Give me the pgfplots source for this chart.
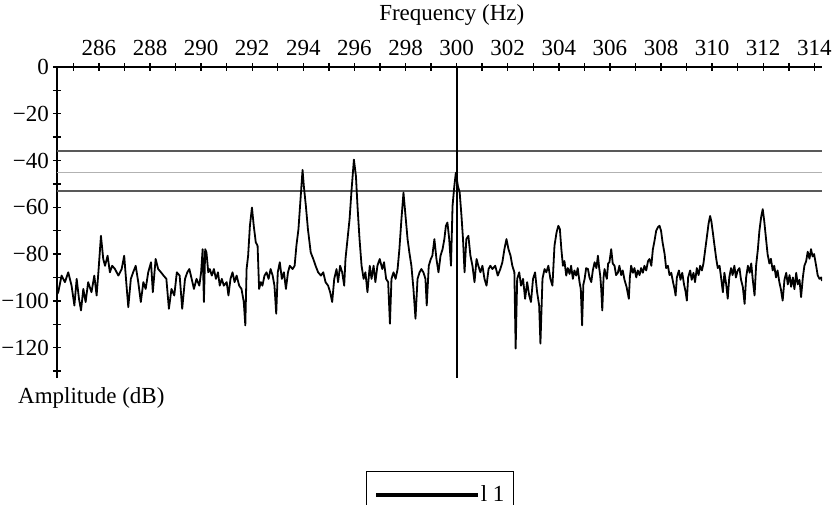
\documentclass[border=0pt]{standalone}
\usepackage{pgfplots}
\pgfplotsset{compat=1.18}
\usepackage{pgfplotstable}
\usepackage{fontspec}
\setmainfont{Liberation Serif}
\pgfplotstableread{
f db
284.37 -97.0
284.41 -96.3
284.54 -89.2
284.67 -92.0
284.80 -87.8
284.93 -93.5
285.04 -102.0
285.13 -90.6
285.22 -99.1
285.30 -104.1
285.39 -94.9
285.48 -100.5
285.58 -92.0
285.71 -96.3
285.82 -89.2
285.91 -97.7
285.98 -87.8
286.08 -72.2
286.17 -82.1
286.24 -85.0
286.34 -80.7
286.43 -87.8
286.52 -85.0
286.63 -86.4
286.76 -89.2
286.89 -86.4
286.99 -80.7
287.07 -92.0
287.15 -102.7
287.25 -90.6
287.34 -87.8
287.44 -85.0
287.54 -92.0
287.64 -100.5
287.74 -92.0
287.83 -94.9
287.93 -87.8
288.04 -83.5
288.11 -96.3
288.22 -82.1
288.32 -86.4
288.43 -87.8
288.53 -89.2
288.64 -90.6
288.74 -103.4
288.84 -94.9
288.95 -97.7
289.05 -87.8
289.16 -89.2
289.26 -103.4
289.37 -90.6
289.46 -87.8
289.54 -86.4
289.63 -90.6
289.72 -94.9
289.82 -90.6
289.93 -93.5
290.00 -87.8
290.06 -77.9
290.11 -100.5
290.16 -77.9
290.21 -79.3
290.28 -87.8
290.34 -86.4
290.42 -89.2
290.50 -86.4
290.58 -90.6
290.66 -87.8
290.73 -93.5
290.81 -90.6
290.89 -93.5
291.00 -92.0
291.07 -97.7
291.15 -90.6
291.23 -87.8
291.31 -92.0
291.39 -89.2
291.49 -93.5
291.58 -94.9
291.67 -100.5
291.73 -110.5
291.78 -86.4
291.84 -80.7
291.91 -67.9
291.99 -60.1
292.06 -67.9
292.14 -75.0
292.21 -76.4
292.27 -94.9
292.34 -92.0
292.40 -93.5
292.48 -89.2
292.56 -87.8
292.64 -90.6
292.72 -86.4
292.80 -89.2
292.87 -93.5
292.94 -105.5
293.00 -87.8
293.08 -83.5
293.16 -90.6
293.24 -87.8
293.32 -94.9
293.40 -87.8
293.47 -85.0
293.58 -86.4
293.66 -85.0
293.73 -76.4
293.81 -69.3
293.89 -56.6
293.97 -44.0
294.02 -50.9
294.10 -59.4
294.18 -69.3
294.29 -79.3
294.39 -82.1
294.48 -85.0
294.58 -87.8
294.69 -89.2
294.78 -87.8
294.87 -92.0
294.97 -93.5
295.05 -96.3
295.13 -100.5
295.21 -90.6
295.30 -86.4
295.36 -92.0
295.44 -85.0
295.52 -87.8
295.60 -93.5
295.65 -82.1
295.73 -73.6
295.81 -65.1
295.89 -52.3
295.98 -39.6
296.06 -46.7
296.12 -59.4
296.20 -73.6
296.28 -85.0
296.36 -90.6
296.43 -87.8
296.51 -96.3
296.60 -85.0
296.67 -90.6
296.75 -85.0
296.82 -92.0
296.90 -85.0
296.99 -82.1
297.09 -86.4
297.16 -83.5
297.24 -90.6
297.32 -92.0
297.39 -109.8
297.45 -90.6
297.53 -87.8
297.61 -90.6
297.69 -86.4
297.76 -77.9
297.84 -65.1
297.92 -53.7
298.00 -63.7
298.08 -73.6
298.15 -79.3
298.23 -85.0
298.31 -94.9
298.39 -107.6
298.47 -90.6
298.55 -87.8
298.62 -86.4
298.70 -87.8
298.78 -90.6
298.83 -102.0
298.91 -85.0
298.99 -82.1
299.05 -80.7
299.13 -73.6
299.21 -82.1
299.29 -87.8
299.37 -80.7
299.45 -77.9
299.52 -73.6
299.58 -67.9
299.64 -66.5
299.71 -73.6
299.78 -85.0
299.84 -59.4
299.91 -50.9
299.97 -45.2
300.05 -50.9
300.12 -53.7
300.19 -63.7
300.25 -73.6
300.31 -87.8
300.38 -73.6
300.46 -72.2
300.54 -80.7
300.62 -85.0
300.70 -92.0
300.78 -82.1
300.85 -85.0
300.93 -87.8
301.01 -85.0
301.09 -90.6
301.17 -93.5
301.25 -86.4
301.32 -85.0
301.40 -86.4
301.51 -85.0
301.61 -89.2
301.71 -86.4
301.79 -83.5
301.87 -77.9
301.95 -73.6
302.03 -77.9
302.11 -80.7
302.18 -85.0
302.26 -87.8
302.31 -120.4
302.37 -90.6
302.45 -87.8
302.52 -93.5
302.60 -90.6
302.68 -99.1
302.76 -92.0
302.84 -97.7
302.91 -100.5
302.99 -90.6
303.07 -87.8
303.15 -96.3
303.23 -102.0
303.28 -118.3
303.36 -90.6
303.44 -86.4
303.51 -87.8
303.59 -85.0
303.67 -90.6
303.75 -93.5
303.83 -76.4
303.91 -70.8
303.98 -67.9
304.04 -69.3
304.10 -78.0
304.16 -85.0
304.22 -83.0
304.29 -89.2
304.35 -86.0
304.42 -88.5
304.48 -85.0
304.55 -90.6
304.61 -87.0
304.68 -89.2
304.74 -86.0
304.81 -92.0
304.86 -95.0
304.91 -110.5
304.96 -93.0
305.01 -90.6
305.07 -86.0
305.14 -86.4
305.20 -90.0
305.27 -92.0
305.33 -87.0
305.40 -83.5
305.47 -86.0
305.53 -80.7
305.58 -86.0
305.62 -89.2
305.66 -95.0
305.70 -104.1
305.75 -90.0
305.79 -86.4
305.84 -89.0
305.88 -90.6
305.93 -84.0
305.98 -83.5
306.05 -77.9
306.11 -84.0
306.18 -85.0
306.24 -89.0
306.31 -88.0
306.37 -85.0
306.44 -89.0
306.50 -87.0
306.57 -91.0
306.65 -94.0
306.74 -99.1
306.78 -90.0
306.83 -85.0
306.90 -88.0
306.96 -86.0
307.03 -90.0
307.09 -87.0
307.16 -89.0
307.22 -86.0
307.29 -88.0
307.35 -85.0
307.42 -87.0
307.49 -83.0
307.55 -82.1
307.62 -85.0
307.68 -78.0
307.75 -74.0
307.81 -70.0
307.88 -68.5
307.94 -67.9
308.00 -70.0
308.06 -75.0
308.14 -80.0
308.20 -86.0
308.27 -85.0
308.33 -89.0
308.40 -88.0
308.47 -92.0
308.53 -95.0
308.57 -97.7
308.62 -90.0
308.70 -87.0
308.76 -91.0
308.83 -88.0
308.90 -93.0
308.96 -96.0
309.01 -99.9
309.06 -90.0
309.14 -87.0
309.20 -91.0
309.27 -88.0
309.33 -92.0
309.40 -86.0
309.47 -89.0
309.53 -85.0
309.60 -87.0
309.66 -84.0
309.73 -78.0
309.79 -73.0
309.86 -67.0
309.92 -63.7
309.97 -66.0
310.03 -71.0
310.10 -77.0
310.16 -82.0
310.22 -86.0
310.29 -85.0
310.35 -90.0
310.42 -96.3
310.48 -88.0
310.55 -93.0
310.61 -99.1
310.67 -90.0
310.74 -86.0
310.80 -89.0
310.87 -85.0
310.93 -90.0
311.00 -87.0
311.07 -86.0
311.13 -91.0
311.20 -94.0
311.27 -101.3
311.33 -90.0
311.40 -85.0
311.47 -88.0
311.53 -84.0
311.59 -91.0
311.66 -97.7
311.72 -85.0
311.79 -77.9
311.85 -70.0
311.92 -64.0
311.98 -60.8
312.04 -66.0
312.11 -73.6
312.17 -80.0
312.24 -84.0
312.30 -82.0
312.37 -87.0
312.43 -85.0
312.50 -90.0
312.56 -87.0
312.63 -92.0
312.69 -95.0
312.76 -99.9
312.83 -91.0
312.90 -88.0
312.96 -93.0
313.03 -89.0
313.09 -94.0
313.16 -90.0
313.22 -95.0
313.29 -88.0
313.35 -93.0
313.42 -91.0
313.48 -98.4
313.55 -90.0
313.61 -85.0
313.68 -83.0
313.74 -79.0
313.81 -82.0
313.87 -77.9
313.93 -81.0
313.99 -80.0
314.07 -85.0
314.13 -89.0
314.20 -90.6
314.27 -90.0
314.30 -91.5
}\spectrum
\begin{document}
\begin{tikzpicture}
\useasboundingbox (-28.5pt,-63pt) rectangle (388pt,189pt);
\begin{axis}[
  scale only axis, width=382.5pt, height=155.5pt,
  xmin=284.36, xmax=314.3, ymin=-133, ymax=0,
  axis x line*=top, axis y line*=left,
  x axis line style={line width=0.9pt, black},
  y axis line style={line width=1.2pt, black},
  xtick={286,288,...,314}, minor xtick={285,287,...,313},
  ytick={-120,-100,-80,-60,-40,-20,0}, minor ytick={-130,-110,-90,-70,-50,-30,-10},
  yticklabels={−120,−100,−80,−60,−40,−20,0},
  tick align=center, major tick length=4pt, minor tick length=4pt,
  tick style={line width=0.7pt, black},
  /pgf/number format/assume math mode=true,
  ticklabel style={font=\fontsize{11.5}{13}\selectfont},
  yticklabel style={xshift=1.5pt},
  every axis x label/.style={at={(axis description cs:0.516,1)}, anchor=center, yshift=26pt, font=\fontsize{11.5}{13}\selectfont},
  every axis y label/.style={at={(axis description cs:-0.0600,-0.0643)}, anchor=west, font=\fontsize{11.5}{13}\selectfont},
  xlabel={Frequency (Hz)}, ylabel={Amplitude (dB)},
  legend style={at={(axis description cs:0.4039,-0.299)}, anchor=north west, draw=black, line width=0.6pt,
    font=\fontsize{11.5}{13}\selectfont, inner xsep=4pt, inner ysep=5pt, nodes={inner xsep=0.5pt}},
  legend image code/.code={\draw[line width=1.6pt, black] (0pt,0pt) -- (51pt,0pt);},
]
\addplot[forget plot, color=black!65, line width=0.8pt] coordinates {(284.36,-36) (314.3,-36)};
\addplot[forget plot, color=black!30, line width=0.6pt] coordinates {(284.36,-45) (314.3,-45)};
\addplot[forget plot, color=black!65, line width=0.8pt] coordinates {(284.36,-53) (314.3,-53)};
\addplot[forget plot, black, line width=0.9pt] coordinates {(300,0) (300,-133)};
\addplot[black, line width=0.9pt, line join=round] table[x=f, y=db] {\spectrum};
\addlegendentry{l 1}
\end{axis}
\end{tikzpicture}
\end{document}
